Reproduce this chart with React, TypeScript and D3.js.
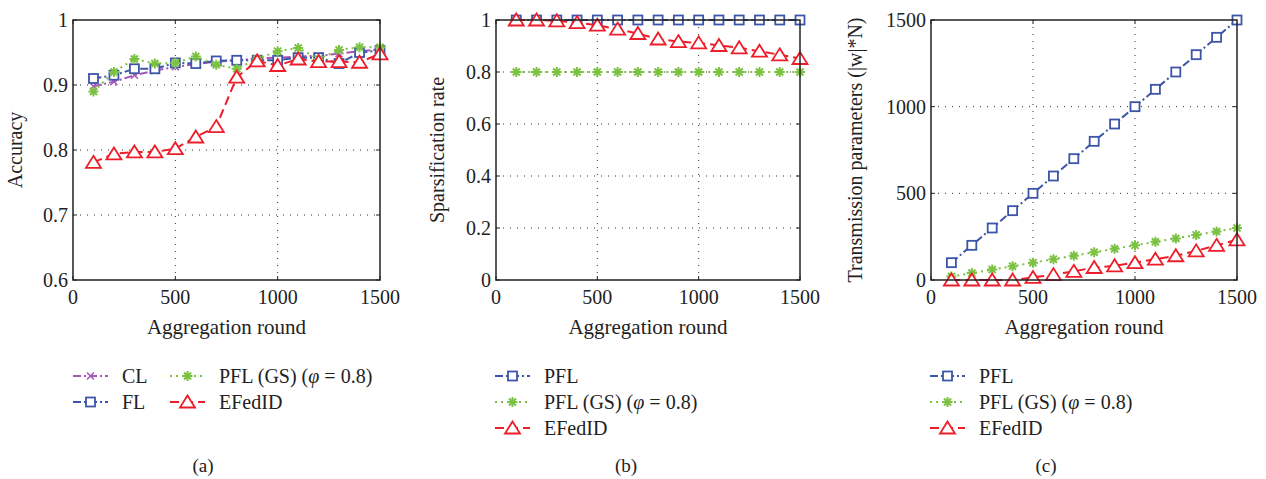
import React from "react";
import * as d3 from "d3";

// aggregation rounds
const rounds = [100, 200, 300, 400, 500, 600, 700, 800, 900, 1000, 1100, 1200, 1300, 1400, 1500];

// (a) accuracy
const accCL = [0.898, 0.905, 0.915, 0.922, 0.928, 0.932, 0.936, 0.938, 0.941, 0.942, 0.944, 0.945, 0.948, 0.952, 0.955];
const accFL = [0.91, 0.915, 0.925, 0.925, 0.934, 0.933, 0.937, 0.938, 0.938, 0.938, 0.942, 0.942, 0.933, 0.95, 0.953];
const accGS = [0.89, 0.92, 0.94, 0.933, 0.934, 0.944, 0.931, 0.925, 0.94, 0.952, 0.957, 0.94, 0.954, 0.958, 0.958];
const accEF = [0.781, 0.794, 0.797, 0.797, 0.802, 0.82, 0.836, 0.912, 0.937, 0.93, 0.94, 0.936, 0.936, 0.935, 0.948];

// (b) sparsification rate
const spPFL = [1, 1, 1, 1, 1, 1, 1, 1, 1, 1, 1, 1, 1, 1, 1];
const spGS = [0.8, 0.8, 0.8, 0.8, 0.8, 0.8, 0.8, 0.8, 0.8, 0.8, 0.8, 0.8, 0.8, 0.8, 0.8];
const spEF = [1, 1, 0.997, 0.99, 0.98, 0.965, 0.948, 0.927, 0.917, 0.912, 0.902, 0.893, 0.88, 0.866, 0.852];

// (c) transmission parameters
const tpPFL = [100, 200, 300, 400, 500, 600, 700, 800, 900, 1000, 1100, 1200, 1300, 1400, 1500];
const tpGS = [20, 40, 60, 80, 100, 120, 140, 160, 180, 200, 220, 240, 260, 280, 300];
const tpEF = [0, 0, 0, 0, 15, 31, 50, 72, 82, 100, 120, 140, 168, 200, 232];

const xTicks = [0, 500, 1000, 1500];
const accTicks = [0.6, 0.7, 0.8, 0.9, 1];
const spTicks = [0, 0.2, 0.4, 0.6, 0.8, 1];
const tpTicks = [0, 500, 1000, 1500];

const PURPLE = "#a856b8";
const BLUE = "#3c55a8";
const GREEN = "#7cc242";
const RED = "#ee1d2a";
const FONT = "'Liberation Serif', 'DejaVu Serif', serif";

type Kind = "x" | "square" | "star" | "tri";
type Series = { name: React.ReactNode; values: number[]; color: string; dash: string; kind: Kind };

const Marker = ({ kind, color, x, y }: { kind: Kind; color: string; x: number; y: number }) => {
  if (kind === "square")
    return <rect x={x - 4.5} y={y - 4.5} width={9} height={9} fill="white" stroke={color} strokeWidth={1.8} />;
  if (kind === "tri")
    return <path d={`M${x},${y - 6.5}L${x + 7.5},${y + 5.5}L${x - 7.5},${y + 5.5}Z`} fill="white" stroke={color} strokeWidth={1.8} />;
  if (kind === "x")
    return <path d={`M${x - 3.5},${y - 3.5}L${x + 3.5},${y + 3.5}M${x - 3.5},${y + 3.5}L${x + 3.5},${y - 3.5}`} stroke={color} strokeWidth={1.5} />;
  const r = 5;
  return (
    <path
      d={[0, 45, 90, 135].map((a) => {
        const t = (a * Math.PI) / 180;
        return `M${x - r * Math.cos(t)},${y - r * Math.sin(t)}L${x + r * Math.cos(t)},${y + r * Math.sin(t)}`;
      }).join("")}
      stroke={color}
      strokeWidth={2}
    />
  );
};

const Panel = ({ left, right, yDomain, yTicks, yFmt, yLabel, yLabelX, series }: {
  left: number; right: number; yDomain: [number, number]; yTicks: number[]; yFmt: (v: number) => string;
  yLabel: string; yLabelX: number; series: Series[];
}) => {
  const top = 20, bottom = 280;
  const x = d3.scaleLinear().domain([0, 1500]).range([left, right]);
  const y = d3.scaleLinear().domain(yDomain).range([bottom, top]);
  const line = d3.line<number>().x((_, i) => x(rounds[i])).y((d) => y(d));
  return (
    <g fontFamily={FONT} fill="#222">
      {xTicks.slice(1, -1).map((t) => (
        <line key={"gx" + t} x1={x(t)} x2={x(t)} y1={top} y2={bottom} stroke="#333" strokeWidth={1} strokeDasharray="1 6" />
      ))}
      {yTicks.slice(1, -1).map((t) => (
        <line key={"gy" + t} x1={left} x2={right} y1={y(t)} y2={y(t)} stroke="#333" strokeWidth={1} strokeDasharray="1 6" />
      ))}
      {yTicks.map((t) => (
        <g key={"ty" + t}>
          <line x1={left} x2={left + 4} y1={y(t)} y2={y(t)} stroke="#222" />
          <line x1={right} x2={right - 4} y1={y(t)} y2={y(t)} stroke="#222" />
          <text x={left - 5} y={y(t)} dy="0.35em" textAnchor="end" fontSize={20}>{yFmt(t)}</text>
        </g>
      ))}
      {xTicks.map((t) => (
        <g key={"tx" + t}>
          <line x1={x(t)} x2={x(t)} y1={bottom} y2={bottom - 4} stroke="#222" />
          <line x1={x(t)} x2={x(t)} y1={top} y2={top + 4} stroke="#222" />
          <text x={x(t)} y={bottom + 24} textAnchor="middle" fontSize={20}>{t}</text>
        </g>
      ))}
      {series.map((s, k) => (
        <g key={"s" + k}>
          <path d={line(s.values) || ""} fill="none" stroke={s.color} strokeWidth={2} strokeDasharray={s.dash} />
          {s.values.map((v, i) => <Marker key={i} kind={s.kind} color={s.color} x={x(rounds[i])} y={y(v)} />)}
        </g>
      ))}
      <rect x={left} y={top} width={right - left} height={bottom - top} fill="none" stroke="#222" strokeWidth={1.5} />
      <text x={(left + right) / 2} y={334} textAnchor="middle" fontSize={21}>Aggregation round</text>
      <text transform={`translate(${yLabelX},${(top + bottom) / 2}) rotate(-90)`} textAnchor="middle" fontSize={20}>{yLabel}</text>
    </g>
  );
};

const LegendItem = ({ s, x, y }: { s: Series; x: number; y: number }) => (
  <g fontFamily={FONT} fill="#222">
    <line x1={x} x2={x + 35} y1={y} y2={y} stroke={s.color} strokeWidth={2} strokeDasharray={s.dash} />
    <Marker kind={s.kind} color={s.color} x={x + 17.5} y={y} />
    <text x={x + 49} y={y} dy="0.35em" fontSize={20}>{s.name}</text>
  </g>
);

const gsName = <>PFL (GS) (<tspan fontStyle="italic">φ</tspan> = 0.8)</>;

export default function App() {
  const fmtDec = (v: number) => (v === 1 || v === 0 ? String(v) : v.toFixed(1));
  const aSeries: Series[] = [
    { name: "CL", values: accCL, color: PURPLE, dash: "8 3 2 3", kind: "x" },
    { name: "FL", values: accFL, color: BLUE, dash: "8 3 2 3", kind: "square" },
    { name: gsName, values: accGS, color: GREEN, dash: "2 4", kind: "star" },
    { name: "EFedID", values: accEF, color: RED, dash: "9 5", kind: "tri" },
  ];
  const bSeries: Series[] = [
    { name: "PFL", values: spPFL, color: BLUE, dash: "8 3 2 3", kind: "square" },
    { name: gsName, values: spGS, color: GREEN, dash: "2 4", kind: "star" },
    { name: "EFedID", values: spEF, color: RED, dash: "9 5", kind: "tri" },
  ];
  const cSeries: Series[] = [
    { name: "PFL", values: tpPFL, color: BLUE, dash: "8 3 2 3", kind: "square" },
    { name: gsName, values: tpGS, color: GREEN, dash: "2 4", kind: "star" },
    { name: "EFedID", values: tpEF, color: RED, dash: "9 5", kind: "tri" },
  ];
  return (
    <svg width={1266} height={479} style={{ position: "absolute", left: 0, top: 0, background: "white" }}>
      <Panel left={73} right={380} yDomain={[0.6, 1]} yTicks={accTicks} yFmt={fmtDec} yLabel="Accuracy" yLabelX={22} series={aSeries} />
      <Panel left={496} right={800} yDomain={[0, 1]} yTicks={spTicks} yFmt={fmtDec} yLabel="Sparsification rate" yLabelX={444} series={bSeries} />
      <Panel left={931} right={1237} yDomain={[0, 1500]} yTicks={tpTicks} yFmt={(v) => String(v)} yLabel="Transmission parameters (|w|*N)" yLabelX={862} series={cSeries} />

      <LegendItem s={aSeries[0]} x={73} y={376} />
      <LegendItem s={aSeries[1]} x={73} y={402} />
      <LegendItem s={aSeries[2]} x={170} y={376} />
      <LegendItem s={aSeries[3]} x={170} y={402} />

      {bSeries.map((s, i) => <LegendItem key={"b" + i} s={s} x={495} y={376 + i * 26} />)}
      {cSeries.map((s, i) => <LegendItem key={"c" + i} s={s} x={930} y={376 + i * 26} />)}

      <g fontFamily={FONT} fill="#222" fontSize={19} textAnchor="middle">
        <text x={203} y={472}>(a)</text>
        <text x={626} y={472}>(b)</text>
        <text x={1046} y={472}>(c)</text>
      </g>
    </svg>
  );
}
